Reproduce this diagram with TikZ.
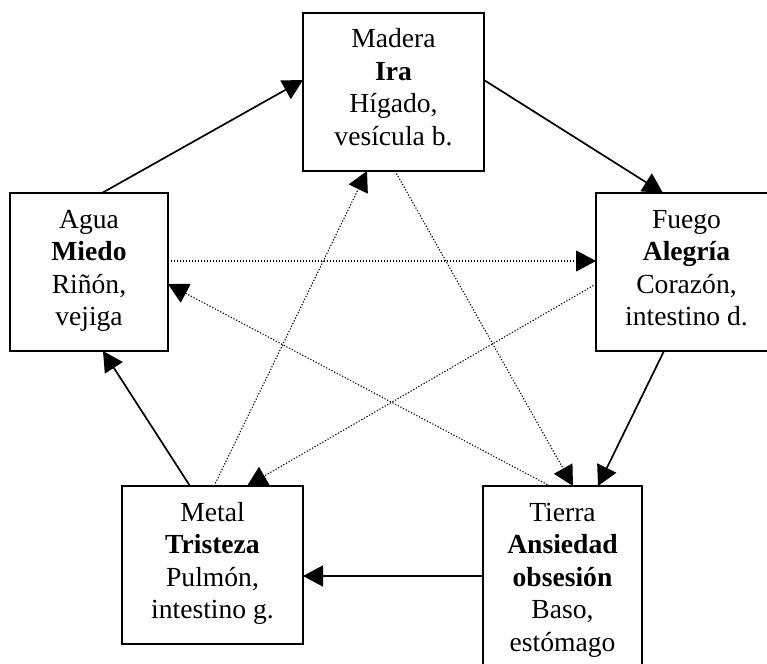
\documentclass[tikz,border=0pt]{standalone}
\usepackage{fontspec}
\setmainfont{Liberation Serif}
\usetikzlibrary{arrows.meta,calc}

% text block of an element box: lines set from the top edge
\newcommand\elemtext[3]{\parbox[c][#2][t]{#1}{\centering\rule{0pt}{35pt}#3}}

\tikzset{
  elembox/.style={draw, line width=2pt, inner sep=0pt, outer sep=0pt,
    font=\fontsize{27.6}{32.5}\selectfont},
  tipshape/.style={-{Triangle[length=20pt,width=21pt]}},
  gen/.style={tipshape, line width=1.7pt},
  ctrl/.style={tipshape, line width=1.1pt, dash pattern=on 1.2pt off 1.8pt}
}

\begin{document}
\begin{tikzpicture}[x=1pt,y=-1pt]
  \clip (0,0) rectangle (767,663);
  \fill[white] (0,0) rectangle (767,663);

  % the five elements
  \node[elembox] (madera) at (393.5,92)
    {\elemtext{181pt}{158pt}{Madera\\\textbf{Ira}\\Hígado,\\vesícula b.}};
  \node[elembox] (agua) at (89,272)
    {\elemtext{158pt}{158pt}{Agua\\\textbf{Miedo}\\Riñón,\\vejiga}};
  \node[elembox] (fuego) at (686.5,272)
    {\elemtext{181pt}{158pt}{Fuego\\\textbf{Alegría}\\Corazón,\\intestino d.}};
  \node[elembox] (metal) at (212.5,565)
    {\elemtext{181pt}{158pt}{Metal\\\textbf{Tristeza}\\Pulmón,\\intestino g.}};
  \node[elembox] (tierra) at (562.5,593)
    {\elemtext{159pt}{214pt}{Tierra\\\textbf{Ansiedad}\\\textbf{obsesión}\\Baso,\\estómago}};

  % generating cycle (solid)
  \draw[gen] ($(agua.north west)+(92,0)$) -- ($(madera.north west)+(0,67)$);
  \draw[gen] ($(madera.north east)+(0,67)$) -- ($(fuego.north west)+(67,0)$);
  \draw[gen] ($(fuego.south west)+(68,0)$) -- ($(tierra.north west)+(115,0)$);
  \draw[gen] ($(tierra.north west)+(0,90)$) -- ($(metal.north east)+(0,90)$);
  \draw[gen] ($(metal.north west)+(68,0)$) -- ($(agua.south west)+(93,0)$);

  % controlling cycle (dotted)
  \draw[ctrl] ($(agua.north east)+(0,68)$) -- ($(fuego.north west)+(0,68)$);
  \draw[ctrl] ($(fuego.north west)+(0,91)$) -- ($(metal.north west)+(125,0)$);
  \draw[ctrl] ($(metal.north west)+(92,0)$) -- ($(madera.south west)+(64,0)$);
  \draw[ctrl] ($(madera.south west)+(92,0)$) -- ($(tierra.north west)+(90,0)$);
  \draw[ctrl] ($(tierra.north west)+(67,0)$) -- ($(agua.north east)+(0,91)$);
\end{tikzpicture}
\end{document}
